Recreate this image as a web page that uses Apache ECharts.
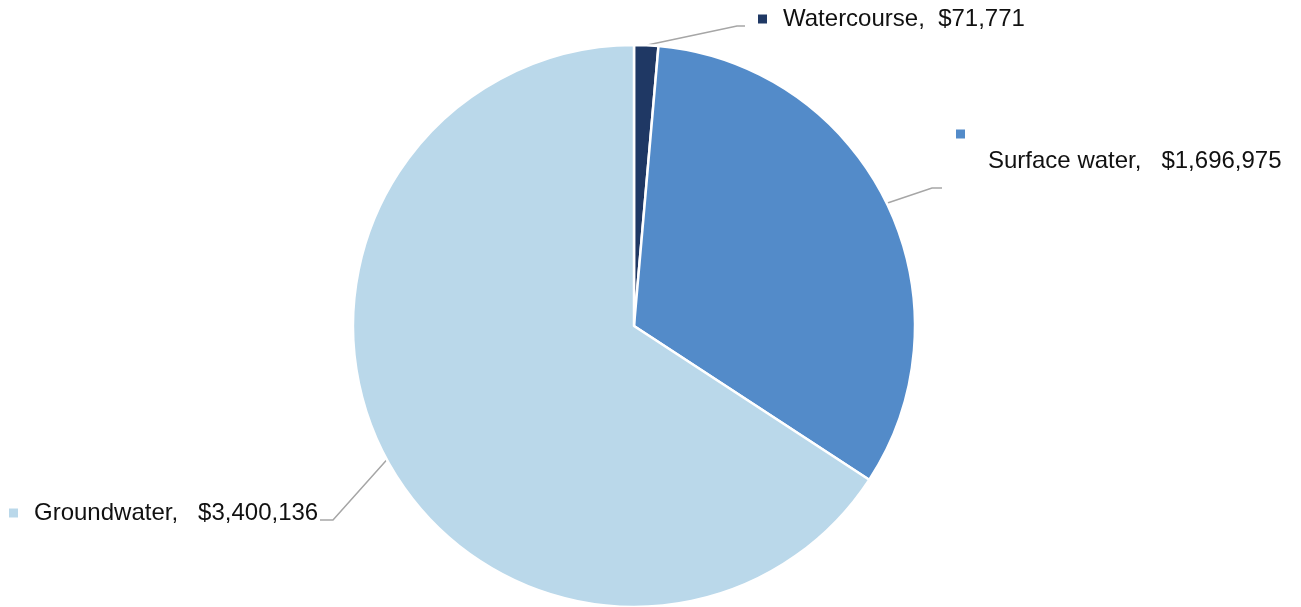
<!DOCTYPE html>
<html>
<head>
<meta charset="utf-8">
<script src="https://cdn.jsdelivr.net/npm/echarts@6/dist/echarts.min.js"></script>
<style>
  html, body { margin: 0; padding: 0; background: #fff; }
  #chart { width: 1301px; height: 607px; }
</style>
</head>
<body>
<div id="chart"></div>
<script>
// data
const categories = ['Watercourse', 'Surface water', 'Groundwater'];
const values = [71771, 1696975, 3400136];
const separators = [',  ', ',   ', ',   '];
const colors = ['#1F3864', '#538BC9', '#BAD8EA'];

// where each label sits (left edge of marker), and where its leader line bends
const labelSpots = [
  { x: 758, y: 19, bend: [737, 26], end: [745, 26], twoLines: false },
  { x: 956, y: 121, bend: [932, 188], end: [942, 188], twoLines: true },
  { x: 9, y: 513, bend: [333, 520], end: [320, 520], twoLines: false }
];

const fmt = v => '$' + v.toLocaleString('en-US');

const chart = echarts.init(document.getElementById('chart'));

const seriesData = categories.map((name, i) => ({
  name,
  value: values[i],
  itemStyle: { color: colors[i] },
  label: {
    formatter: labelSpots[i].twoLines
      ? '{m' + i + '| }\n{t2|' + name + separators[i] + fmt(values[i]) + '}'
      : '{m' + i + '| }{t|' + name + separators[i] + fmt(values[i]) + '}'
  }
}));

const rich = {
  t: { fontFamily: 'Liberation Sans, Arial', fontSize: 24, color: '#111', padding: [0, 0, 0, 16], lineHeight: 28 },
  t2: { fontFamily: 'Liberation Sans, Arial', fontSize: 24, color: '#111', padding: [0, 0, 0, 32], lineHeight: 28 }
};
colors.forEach((c, i) => {
  rich['m' + i] = { width: 9, height: 9, backgroundColor: c, fontSize: 9, lineHeight: i === 1 ? 26 : 9 };
});

chart.setOption({
  animation: false,
  series: [{
    type: 'pie',
    center: [634, 326],
    radius: 281,
    startAngle: 90,
    clockwise: true,
    avoidLabelOverlap: false,
    itemStyle: { borderColor: '#fff', borderWidth: 2.5 },
    label: { show: true, position: 'outside', rich },
    labelLine: { show: true, lineStyle: { color: '#A6A6A6', width: 1.5 } },
    labelLayout: params => {
      const s = labelSpots[params.dataIndex];
      const p0 = params.labelLinePoints ? params.labelLinePoints[0] : null;
      return {
        x: s.x,
        y: s.y,
        align: 'left',
        verticalAlign: s.twoLines ? 'top' : 'middle',
        labelLinePoints: p0 ? [p0, s.bend, s.end] : undefined
      };
    },
    emphasis: { disabled: true },
    data: seriesData
  }]
});
</script>
</body>
</html>
